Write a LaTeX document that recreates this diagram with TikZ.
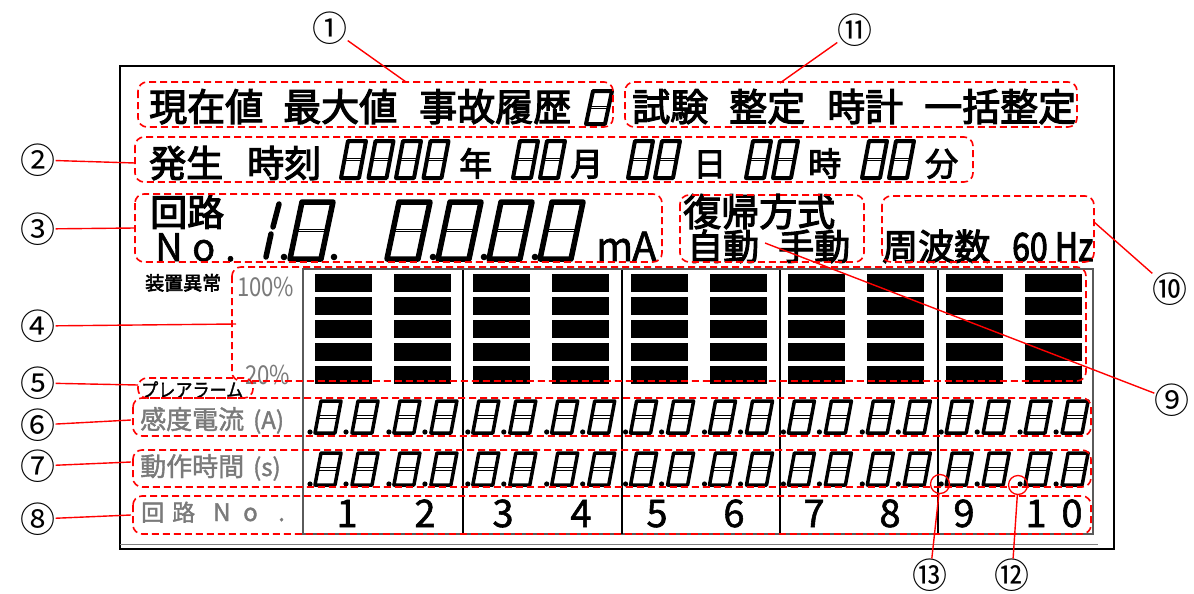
\documentclass[tikz,border=0pt]{standalone}
\usepackage{fontspec}
\setmainfont[FakeBold=3]{Noto Sans CJK JP}
\newfontfamily\thin{Noto Sans CJK JP}
\newfontfamily\midw[FakeBold=1.5]{Noto Sans CJK JP}
\newcommand{\fs}[1]{\fontsize{#1}{#1}\selectfont}
\definecolor{lblgray}{HTML}{7A7A7A}
\definecolor{panelgray}{HTML}{5A5A5A}
\definecolor{boxred}{HTML}{FF0000}
% seven-segment style "8": x, y(bottom), w, h, slant, line width
\newcommand{\sseg}[6]{%
  \draw[line width=#6, line join=round] (#1,#2) -- ++(#3,0) -- ++(#5,-#4) -- ++(-#3,0) -- cycle;
  \draw[line width=1pt] (#1+0.5*#5,#2-0.5*#4-1.4) -- ++(#3,0);
  \draw[line width=1pt] (#1+0.5*#5,#2-0.5*#4+1.4) -- ++(#3,0);
}
\begin{document}
\begin{tikzpicture}[x=1pt,y=-1pt,
  t/.style={inner sep=0pt, anchor=base west},
  redbox/.style={draw=boxred, line width=1.6pt, dash pattern=on 7pt off 4pt, rounded corners=9pt},
  callout/.style={draw=boxred, line width=1.4pt},
  cnum/.style={inner sep=0pt, font=\thin\fs{35}},
  marker/.style={draw=boxred, line width=1.3pt, circle, minimum size=19pt, inner sep=0pt}]
\useasboundingbox (0,0) rectangle (1194,594);
\fill[white] (0,0) rectangle (1194,594);

% frames
\draw[line width=1.8pt] (120,66) rectangle (1114,549);
\draw[line width=1pt, gray] (120,544) -- (1098,544);
\draw[panelgray, line width=2.4pt] (303,269) rectangle (1093,534);
\foreach \xx in {463,622,780,938} \draw[line width=1.6pt] (\xx,270) -- (\xx,534);

% bars
\foreach \k in {0,...,9}{\foreach \yy in {274,297,320,343,366}{\fill ({315+78.9*\k},\yy) rectangle ++(57,18);}}

% row 1
\node[t, font=\fs{38}] (t1a) at (149,121) {現在値};
\node[t, font=\fs{38}] (t1b) at (283,121) {最大値};
\node[t, font=\fs{38}] (t1c) at (419,121) {事故履歴};
\sseg{586}{124}{19}{33}{7}{4pt}
\node[t, font=\fs{38}] (t11a) at (632,121) {試験};
\node[t, font=\fs{38}] (t11b) at (729,121) {整定};
\node[t, font=\fs{38}] (t11c) at (827,121) {時計};
\node[t, font=\fs{38}] (t11d) at (924,121) {一括整定};

% row 2
\node[t, font=\fs{37}] (t2a) at (149,177) {発生};
\node[t, font=\fs{37}] (t2b) at (247,177) {時刻};
\foreach \xx in {341,368.5,396,423.5,513,540,628,655,746,773,862,889}{\sseg{\xx}{178}{18}{37}{7}{4pt}}
\node[t, font=\fs{33}] (ty) at (459,176) {年};
\node[t, font=\fs{33}] (tm) at (570,176) {月};
\node[t, font=\fs{33}] (td) at (693,176) {日};
\node[t, font=\fs{33}] (th) at (808,176) {時};
\node[t, font=\fs{33}] (tmin) at (925,176) {分};

% row 3
\node[t, font=\fs{37}] (t3a) at (150,226) {回路};
\node[t, font=\midw\fs{38}] (t3n) at (155,261) {N};
\node[t, font=\midw\fs{38}] (t3o) at (192,261) {o};
\node[t, font=\midw\fs{38}] (t3d) at (225,261) {.};
\draw[line width=5.5pt, line cap=round] (266,257) -- (271,234);
\draw[line width=5.5pt, line cap=round] (273,227) -- (279,204);
\fill (284,257) circle (3.3);
\sseg{290}{259}{31}{57}{12}{5.5pt}
\fill (334,257) circle (3.3);
\foreach \xx in {387,438,489,540}{\sseg{\xx}{259}{31}{57}{12}{5.5pt}}
\foreach \xx in {433,484,535}{\fill (\xx,257) circle (3.3);}
\node[t, font=\midw\fs{40}] (t3m) at (596,261) {m};
\node[t, font=\midw\fs{40}] (t3A) at (632,261) {A};
\node[t, font=\fs{38}] (t9a) at (683,226) {復帰方式};
\node[t, font=\fs{36}] (t9b) at (687,260) {自動};
\node[t, font=\fs{36}] (t9c) at (778,260) {手動};
\node[t, font=\fs{36}] (t10a) at (882,260) {周波数};
\node[t, font=\fs{39}] (t10b) at (1012,261) {\scalebox{0.82}[1]{60 Hz}};

% bar labels
\node[t, font=\fs{19}] (tdev) at (145,290) {装置異常};
\node[t, font=\thin\fs{26}, text=lblgray] (t100) at (237,296) {\scalebox{0.85}[1]{100\%}};
\node[t, font=\thin\fs{26}, text=lblgray] (t20) at (245,384) {\scalebox{0.85}[1]{20\%}};
\node[t, font=\midw\fs{19}] (tpre) at (141,397) {\scalebox{0.9}[1]{プレアラーム}};

% rows 6-8 labels
\node[t, font=\midw\fs{26}, text=lblgray] (t6a) at (140,429) {感度電流};
\node[t, font=\midw\fs{24}, text=lblgray] (t6b) at (253,429) {(A)};
\node[t, font=\midw\fs{26}, text=lblgray] (t7a) at (140,476) {動作時間};
\node[t, font=\midw\fs{24}, text=lblgray] (t7b) at (253,476) {(s)};
\node[t, font=\midw\fs{23}, text=lblgray] (t8a) at (141,521) {回};
\node[t, font=\midw\fs{23}, text=lblgray] (t8b) at (172,521) {路};
\node[t, font=\midw\fs{24}, text=lblgray] (t8c) at (213,521) {N};
\node[t, font=\midw\fs{24}, text=lblgray] (t8d) at (243,521) {o};
\node[t, font=\midw\fs{24}, text=lblgray] (t8e) at (278,521) {.};

% rows 6-7 digits
\foreach \k in {0,...,9}{
  \pgfmathsetmacro\xo{315+78.9*\k}
  \foreach \yb in {433,485}{
    \fill (\xo-5,\yb-1) circle (2.6);
    \sseg{\xo}{\yb}{20}{32}{6}{3.5pt}
    \fill (\xo+31,\yb-1) circle (2.6);
    \sseg{\xo+37}{\yb}{20}{32}{6}{3.5pt}
  }
}

% circuit numbers
\foreach \n/\xx in {1/347,2/425,3/503,4/581,5/657,6/734,7/814,8/890,9/964}{\node[anchor=base, inner sep=0pt, font=\midw\fs{38}] (n\n) at (\xx,527) {\n};}
\node[anchor=base, inner sep=0pt, font=\midw\fs{38}] (n10a) at (1036,527) {1};
\node[anchor=base, inner sep=0pt, font=\midw\fs{38}] (n10b) at (1072,527) {0};

% red dashed boxes
\draw[redbox] (138,82) rectangle (613,127);
\draw[redbox] (625,82) rectangle (1077,127);
\draw[redbox] (135,137) rectangle (973,182);
\draw[redbox] (135,194) rectangle (662,262);
\draw[redbox] (680,195) rectangle (864,262);
\draw[redbox] (882,196) rectangle (1094,262);
\draw[redbox] (232,267) rectangle (1086,381);
\draw[redbox] (138,378) rectangle (253,398);
\draw[redbox] (133,398) rectangle (1091,436);
\draw[redbox] (133,450) rectangle (1091,487);
\draw[redbox] (133,496) rectangle (1091,534);

% markers
\node[marker] (m13) at (940,484) {};
\node[marker] (m12) at (1018,485) {};

% callout numbers
\node[cnum] (c1) at (330,28) {①};
\node[cnum] (c11) at (855,30) {⑪};
\node[cnum] (c2) at (38,160) {②};
\node[cnum] (c3) at (38,229) {③};
\node[cnum] (c4) at (38,326) {④};
\node[cnum] (c5) at (38,383) {⑤};
\node[cnum] (c6) at (38,425) {⑥};
\node[cnum] (c7) at (38,466) {⑦};
\node[cnum] (c8) at (38,519) {⑧};
\node[cnum] (c10) at (1170,289) {⑩};
\node[cnum] (c9) at (1172,400) {⑨};
\node[cnum] (c13) at (930,575) {⑬};
\node[cnum] (c12) at (1012,575) {⑫};

% callout endpoints
\coordinate (e1) at (406,82);
\coordinate (e11) at (780,83);
\coordinate (e2) at (135,163);
\coordinate (e3) at (135,228);
\coordinate (e4) at (236,324);
\coordinate (e5) at (138,385);
\coordinate (e6) at (131,420);
\coordinate (e7) at (131,462);
\coordinate (e8) at (131,515);
\coordinate (e10) at (1094,222);
\coordinate (e9) at (765,243);

\draw[callout] (c1) -- (e1);
\draw[callout] (c11) -- (e11);
\draw[callout] (c2) -- (e2);
\draw[callout] (c3) -- (e3);
\draw[callout] (c4) -- (e4);
\draw[callout] (c5) -- (e5);
\draw[callout] (c6) -- (e6);
\draw[callout] (c7) -- (e7);
\draw[callout] (c8) -- (e8);
\draw[callout] (c10) -- (e10);
\draw[callout] (c9) -- (e9);
\draw[callout] (m13) -- (c13);
\draw[callout] (m12) -- (c12);
\end{tikzpicture}
\end{document}
